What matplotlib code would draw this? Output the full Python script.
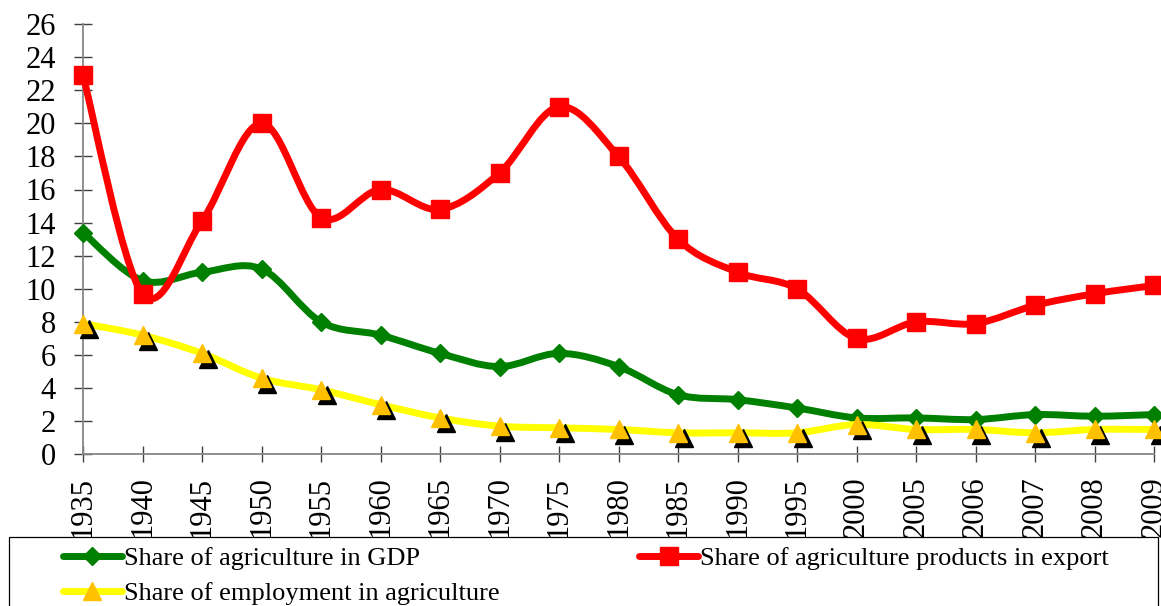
import numpy as np
import matplotlib
matplotlib.use("Agg")
import matplotlib.pyplot as plt
from matplotlib.path import Path
from matplotlib.patches import PathPatch, Rectangle
from matplotlib.lines import Line2D
from matplotlib.transforms import offset_copy

plt.rcParams["font.family"] = ["Liberation Serif", "DejaVu Serif"]

years = ["1935", "1940", "1945", "1950", "1955", "1960", "1965", "1970", "1975",
         "1980", "1985", "1990", "1995", "2000", "2005", "2006", "2007", "2008", "2009"]
gdp_share = [13.4, 10.5, 11.0, 11.2, 8.0, 7.2, 6.1, 5.3, 6.1, 5.3,
             3.6, 3.3, 2.8, 2.2, 2.2, 2.1, 2.4, 2.3, 2.4]
export_share = [22.9, 9.7, 14.1, 20.0, 14.3, 16.0, 14.8, 17.0, 21.0, 18.0,
                13.0, 11.0, 10.0, 7.0, 8.0, 7.9, 9.0, 9.7, 10.2]
employment_share = [7.9, 7.2, 6.1, 4.6, 3.9, 3.0, 2.2, 1.7, 1.6, 1.5,
                    1.3, 1.3, 1.3, 1.8, 1.5, 1.5, 1.3, 1.5, 1.5]
y_ticks = list(range(0, 27, 2))

labels = ["Share of agriculture in GDP",
          "Share of agriculture products in export",
          "Share of employment in agriculture"]


def smooth_path(x, y):
    """Catmull-Rom style cubic Bezier path through every point."""
    pts = np.column_stack([x, y]).astype(float)
    ext = np.vstack([pts[0], pts, pts[-1]])
    verts = [pts[0]]
    codes = [Path.MOVETO]
    for i in range(len(pts) - 1):
        p0, p1, p2, p3 = ext[i], ext[i + 1], ext[i + 2], ext[i + 3]
        verts += [p1 + (p2 - p0) / 6.0, p2 - (p3 - p1) / 6.0, p2]
        codes += [Path.CURVE4] * 3
    return Path(verts, codes)


W, H = 1161, 606
fig = plt.figure(figsize=(W / 100, H / 100), dpi=100)
ax = fig.add_axes([83 / W, 1 - 454.3 / H, (1154 - 83) / W, (454.3 - 24) / H])

x = np.arange(len(years))
lw = 5.0

# GDP share (green diamonds)
ax.add_patch(PathPatch(smooth_path(x, gdp_share), fill=False, edgecolor="#008000",
                       lw=lw, capstyle="round", joinstyle="round", clip_on=False, zorder=2))
ax.plot(x, gdp_share, ls="none", marker="D", ms=9.5, color="#008000", clip_on=False, zorder=3)

# Export share (red squares)
ax.add_patch(PathPatch(smooth_path(x, export_share), fill=False, edgecolor="#FF0000",
                       lw=lw, capstyle="round", joinstyle="round", clip_on=False, zorder=4))
ax.plot(x, export_share, ls="none", marker="s", ms=12.5, color="#FF0000", clip_on=False, zorder=5)

# Employment share (yellow line, orange triangles with a dark drop shadow)
ax.add_patch(PathPatch(smooth_path(x, employment_share), fill=False, edgecolor="#FFFF00",
                       lw=lw, capstyle="round", joinstyle="round", clip_on=False, zorder=6))
shadow = offset_copy(ax.transData, fig=fig, x=4, y=-4, units="points")
ax.plot(x, employment_share, ls="none", marker="^", ms=12.5, color="black",
        transform=shadow, clip_on=False, zorder=7)
ax.plot(x, employment_share, ls="none", marker="^", ms=12.5, color="#FFC000",
        clip_on=False, zorder=8)

ax.set_xlim(0, len(years) - 1)
ax.set_ylim(0, 26)
ax.set_yticks(y_ticks)
ax.set_xticks(x)
ax.set_xticklabels(years, rotation=90)

for side in ("top", "right"):
    ax.spines[side].set_visible(False)
for side in ("left", "bottom"):
    ax.spines[side].set_color("#868686")
    ax.spines[side].set_linewidth(1.3)
ax.tick_params(axis="y", direction="inout", length=13, width=1, color="#404040",
               labelsize=22, pad=13)
ax.tick_params(axis="x", direction="inout", length=12, width=1, color="#404040",
               labelsize=22, pad=10)

# Legend box
fig.add_artist(Rectangle((9 / W, -0.01), (1158 - 9) / W, 1.01 - 537 / H,
                         transform=fig.transFigure, facecolor="white",
                         edgecolor="black", lw=0.9, zorder=3))

handles = [
    Line2D([], [], color="#008000", lw=lw, marker="D", ms=9.5, solid_capstyle="round"),
    Line2D([], [], color="#FFFF00", lw=lw, marker="^", ms=12.5, markerfacecolor="#FFC000",
           markeredgecolor="#FFC000", solid_capstyle="round"),
    Line2D([], [], color="#FF0000", lw=lw, marker="s", ms=12.5, solid_capstyle="round"),
]
fig.legend(handles, [labels[0], labels[2], labels[1]], loc="upper left",
           bbox_to_anchor=(63 / W, 1 - 547 / H), ncol=2, frameon=False,
           fontsize=19, borderpad=0, borderaxespad=0, handlelength=2.23,
           handletextpad=0.08, columnspacing=5.3, labelspacing=0.42, numpoints=1)

fig.savefig("out.png", dpi=100)
